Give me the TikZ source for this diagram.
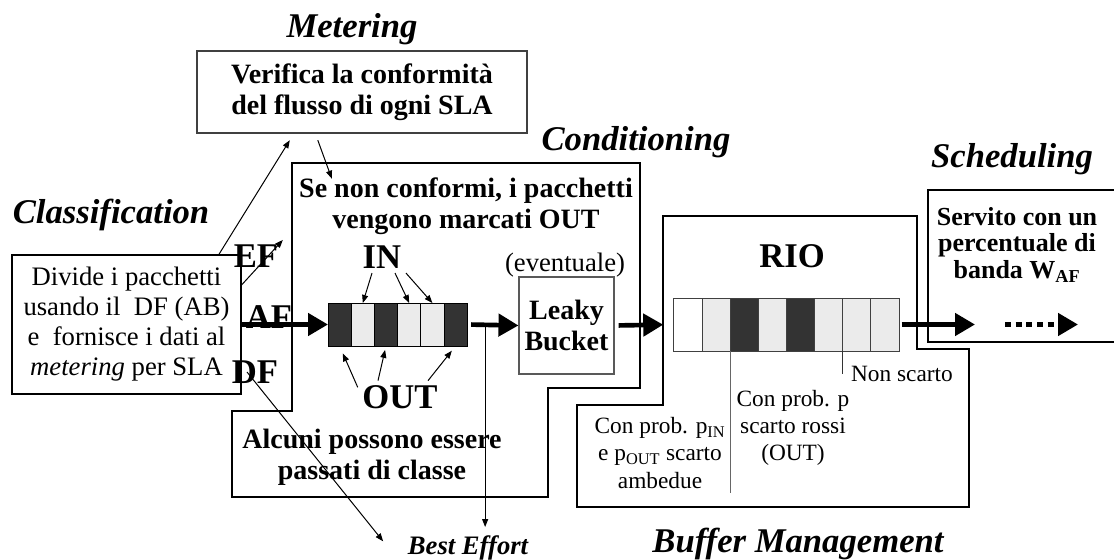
\documentclass[tikz,border=0pt]{standalone}
\usepackage{fontspec}
\setmainfont{Liberation Serif}
\usepackage{tikz}
\usetikzlibrary{shapes.geometric, arrows.meta, calc, positioning}
\tikzstyle{heading} = [font=\fontsize{26}{28}\selectfont\bfseries\itshape]
\tikzstyle{flowtag} = [font=\fontsize{26}{28}\selectfont\bfseries]
\tikzstyle{boldtext} = [font=\fontsize{21}{23.5}\selectfont\bfseries, align=center]
\tikzstyle{plaintext} = [font=\fontsize{20}{22.5}\selectfont, align=center]
\tikzstyle{notetext} = [font=\fontsize{17.5}{20.5}\selectfont, align=center]
\tikzstyle{block} = [rectangle, draw=black, line width=0.8pt, align=center]
\tikzstyle{frame} = [line width=1.8pt, fill=white]
\tikzstyle{cell} = [rectangle, draw=black, line width=0.7pt, outer sep=0pt, inner sep=0pt, minimum width=17.4pt, minimum height=32.25pt]
\tikzstyle{darkcell} = [cell, fill=black!80]
\tikzstyle{lightcell} = [cell, fill=black!8]
\tikzstyle{riocell} = [rectangle, draw=black!75, line width=0.7pt, outer sep=0pt, inner sep=0pt, minimum width=21.1pt, minimum height=39.75pt]
\tikzstyle{arrow} = [line width=0.75pt, -{Triangle[length=6pt, width=4.5pt]}]
\tikzstyle{bigarrow} = [line width=3.5pt, -{Triangle[length=15pt, width=16.5pt]}]
\tikzstyle{dotarrow} = [line width=3.5pt, dash pattern=on 4.5pt off 3.5pt, -{Triangle[length=15pt, width=16.5pt]}]
\tikzstyle{leader} = [line width=0.75pt, draw=black!60]

\begin{document}
\begin{tikzpicture}[x=0.75pt, y=-0.75pt, node distance = 0pt]
	\useasboundingbox (0,0) rectangle (1114,560);
	\node (Metering) [heading] at (352,29) {Metering};
	\node (Classification) [heading] at (111,215) {Classification};
	\node (Conditioning) [heading] at (636,142) {Conditioning};
	\node (Scheduling) [heading] at (1012,159) {Scheduling};
	\node (BufferMgmt) [heading] at (798,544) {Buffer Management};
	\node (MetBox) [block, draw=black!75, minimum width=247.5pt, minimum height=61.5pt, boldtext] at (362,92) {Verifica la conformità\\del flusso di ogni SLA};
	\node (ClassBox) [block, minimum width=171.75pt, minimum height=104.25pt, plaintext] at (126.5,324.5) {Divide i pacchetti\\usando il\ \ DF (AB)\\e\ \ fornisce i dati al\\\textit{metering} per SLA};
	\node (EF) [flowtag] at (256,256) {EF};
	\node (AF) [flowtag] at (269,317) {AF};
	\node (DF) [flowtag] at (255,372) {DF};
	\draw [frame] (292,163) -- (640,163) -- (640,388) -- (548,388) -- (548,497) -- (232,497) -- (232,411) -- (292,411) -- cycle;
	\draw [frame] (663,216) -- (917,216) -- (917,349) -- (969,349) -- (969,507) -- (577,507) -- (577,405) -- (663,405) -- cycle;
	\node (SchedBox) [block, line width=1.8pt, minimum width=142.5pt, minimum height=114pt] at (1023,266) {};
	\node (SeNon) [boldtext] at (466,206) {Se non conformi, i pacchetti\\vengono marcati OUT};
	\node (Alcuni) [boldtext] at (372,457) {Alcuni possono essere\\passati di classe};
	\node (Q1) [darkcell] at (339.6,324.5) {};
	\node (Q2) [lightcell, right = of Q1] {};
	\node (Q3) [darkcell, right = of Q2] {};
	\node (Q4) [lightcell, right = of Q3] {};
	\node (Q5) [lightcell, right = of Q4] {};
	\node (Q6) [darkcell, right = of Q5] {};
	\node (IN) [flowtag] at (382,257) {IN};
	\node (OUT) [flowtag] at (400,397) {OUT};
	\node (Eventuale) [plaintext] at (565,265) {(eventuale)};
	\node (Leaky) [block, draw=black!65, minimum width=71.25pt, minimum height=72.75pt, boldtext] at (566.5,325.5) {Leaky\\Bucket};
	\node (BestEffort) [font=\fontsize{20}{22}\selectfont\bfseries\itshape] at (468,548) {Best Effort};
	\node (RIO) [flowtag] at (792,256) {RIO};
	\node (R1) [riocell, fill=white] at (688,324.5) {};
	\node (R2) [riocell, fill=black!8, right = of R1] {};
	\node (R3) [riocell, fill=black!80, right = of R2] {};
	\node (R4) [riocell, fill=black!8, right = of R3] {};
	\node (R5) [riocell, fill=black!80, right = of R4] {};
	\node (R6) [riocell, fill=black!8, right = of R5] {};
	\node (R7) [riocell, fill=black!8, right = of R6] {};
	\node (R8) [riocell, fill=black!8, right = of R7] {};
	\node (NonScarto) [notetext] at (902,374) {Non scarto};
	\node (MidNote) [notetext] at (793,428) {Con prob. p\\scarto rossi\\(OUT)};
	\node (LeftNote) [notetext] at (660,453) {Con prob. p\textsubscript{IN}\\e p\textsubscript{OUT} scarto\\ambedue};
	\node (Servito) [boldtext, font=\fontsize{19.5}{20}\selectfont\bfseries] at (1017,245) {Servito con un\\percentuale di\\banda W\textsubscript{AF}};
	\path (Q6.east) -- (Leaky.west) coordinate[pos=0.35] (Split);
	\coordinate (SchedIn) at (975,324.5);
	\coordinate (DotA) at (1005,324.5);
	\coordinate (DotB) at (1078,324.5);
	\draw [bigarrow] (AF.west |- Q1.west) -- (Q1.west);
	\draw [bigarrow, shorten <=3pt] (Q6.east) -- (Leaky.west);
	\draw [bigarrow, shorten <=3pt, shorten >=8pt] (Leaky.east) -- (R1.west);
	\draw [bigarrow, shorten <=2pt] (R8.east) -- (SchedIn);
	\draw [dotarrow] (DotA) -- (DotB);
	\draw [arrow, shorten >=3pt] (Split) -- (Split |- BestEffort.north);
	\draw [arrow] ([xshift=-6pt]DF.center) -- ([xshift=-15pt,yshift=5pt]BestEffort.west);
	\draw [arrow] ([xshift=-17pt]ClassBox.north east) -- ([xshift=70pt,yshift=-5pt]MetBox.south west);
	\draw [arrow] ([yshift=29.6pt]ClassBox.east) -- (EF.north east);
	\draw [arrow] ([xshift=91pt,yshift=-5pt]MetBox.south west) -- ([xshift=28pt,yshift=-4.5pt]SeNon.north west);
	\draw [arrow] ([xshift=-7.5pt]IN.south) -- (Q2.north);
	\draw [arrow] ([xshift=9.75pt]IN.south) -- (Q4.north);
	\draw [arrow] (IN.south east) -- (Q5.north);
	\draw [arrow, shorten >=6pt] ([yshift=-5pt]OUT.north west) -- (Q1.south);
	\draw [arrow, shorten >=3pt] ([xshift=-16.5pt]OUT.north) -- (Q3.south);
	\draw [arrow, shorten >=4.5pt] ([xshift=21pt]OUT.north) -- (Q6.south);
	\draw [leader] (R3.south west) -- (R3.south west |- LeftNote.south);
	\draw [leader, draw=black!80] (R7.south west) -- (R7.south west |- NonScarto.center);
\end{tikzpicture}
\end{document}
